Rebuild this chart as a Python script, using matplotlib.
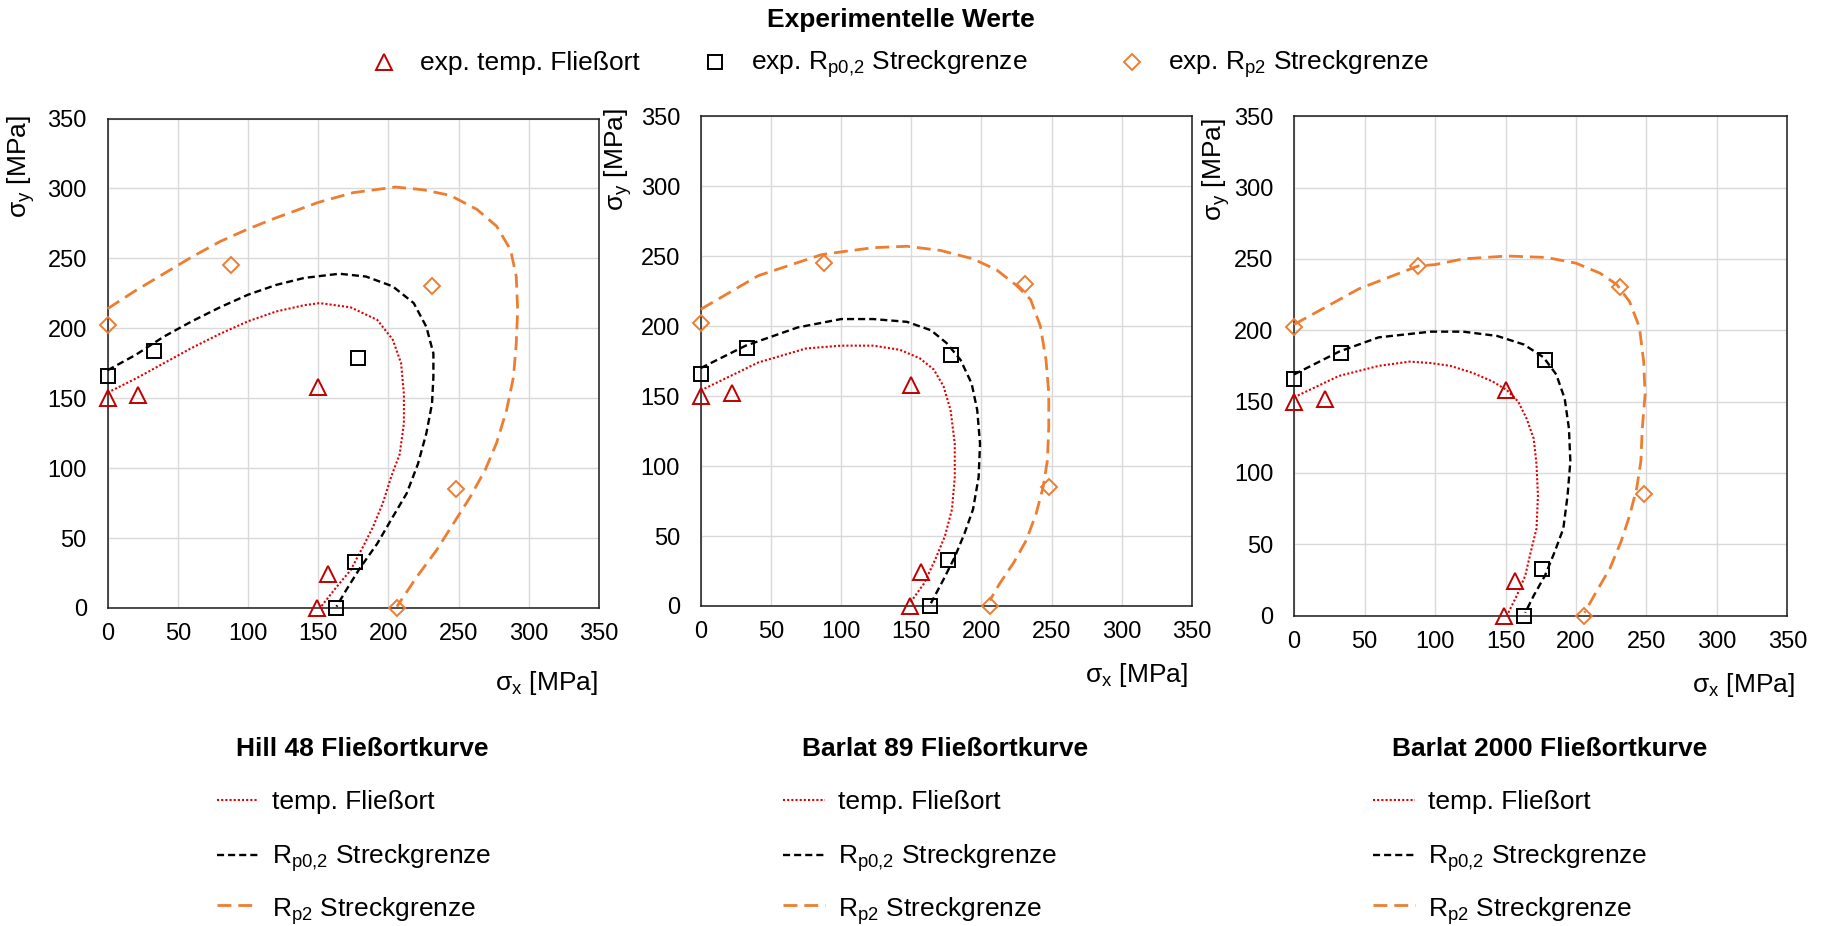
"""
Fließortkurven: Hill 48 / Barlat 89 / Barlat 2000 vs. experimentelle Werte.
"""
import matplotlib
matplotlib.use("Agg")
import matplotlib.pyplot as plt
from matplotlib.lines import Line2D

plt.rcParams["font.family"] = ["Liberation Sans", "DejaVu Sans"]
plt.rcParams["mathtext.fontset"] = "custom"
plt.rcParams["mathtext.rm"] = "Liberation Sans"
plt.rcParams["mathtext.it"] = "Liberation Sans:italic"
plt.rcParams["mathtext.bf"] = "Liberation Sans:bold"

W, H = 1822, 926

RED_LINE = "#E00000"
RED_MARK = "#C00000"
ORANGE   = "#ED7D31"
BLACK    = "#000000"
GRID_CLR = "#D9D9D9"

FS_TEXT = 19
FS_TICK = 17

# experimental values (sigma_x, sigma_y) in MPa
EXP_TEMP_X = [0, 22, 150, 157, 149]
EXP_TEMP_Y = [150, 152, 158, 24, 0]
EXP_RP02_X = [0, 33, 178, 176, 163]
EXP_RP02_Y = [166, 184, 179, 33, 0]
EXP_RP2_X  = [0, 88, 231, 248, 206]
EXP_RP2_Y  = [202, 245, 230, 85, 0]

# Hill 48
HILL_TEMP_X = [0, 20, 40, 60, 80, 100, 120, 140, 151, 173, 192, 203, 209, 211, 211,
               208, 202, 196, 189, 182, 173, 163, 152]
HILL_TEMP_Y = [154, 164, 175, 186, 196, 205, 212, 216.5, 218, 215, 206, 192, 175,
               153, 132, 110, 94, 75, 58, 44, 27, 15, 1]
HILL_RP02_X = [0, 20, 40, 60, 80, 100, 120, 140, 165, 184, 203, 218, 227, 232, 232,
               231, 227, 221, 213, 203, 192, 180, 170, 163]
HILL_RP02_Y = [170, 181, 194, 205, 215, 224, 231, 236, 239, 237, 230, 218, 201, 182,
               165, 146, 125, 103, 82, 65, 46, 29, 13, 1]
HILL_RP2_X  = [0, 20, 40, 60, 80, 100, 120, 150, 175, 205, 225, 244, 263, 277, 287,
               291, 292, 291, 289, 284, 277, 269, 258, 246, 234, 220, 206]
HILL_RP2_Y  = [214, 227, 239, 251, 262, 271, 279, 290, 297, 301, 299, 295, 285, 273,
               256, 237, 213, 189, 165, 141, 118, 99, 79, 60, 41, 22, 1]

# Barlat 89
B89_TEMP_X = [0, 41, 75, 100, 123, 142, 156, 166, 173, 178, 181, 181, 179, 174,
              167, 159, 149]
B89_TEMP_Y = [154, 174, 184, 186, 186, 183, 177, 169, 157, 140, 116, 92, 69, 50,
              33, 16, 2]
B89_RP02_X = [0, 32, 69, 100, 123, 147, 164, 175, 185, 193, 197, 199, 198, 194,
              188, 181, 173, 164]
B89_RP02_Y = [170, 186, 199, 205, 205, 203, 197, 188, 176, 159, 140, 116, 92, 69,
              52, 35, 19, 2]
B89_RP2_X  = [0, 41, 86, 100, 123, 147, 171, 194, 211, 225, 235, 242, 246, 248,
              248, 247, 244, 239, 232, 223, 213, 206]
B89_RP2_Y  = [212, 236, 251, 253, 256, 257, 254, 248, 240, 229, 219, 200, 176, 152,
              128, 104, 85, 66, 47, 31, 16, 4]

# Barlat 2000
B2K_TEMP_X = [0, 32, 60, 82, 97, 111, 127, 141, 151, 159, 165, 170, 172, 173, 172,
              168, 164, 158, 152]
B2K_TEMP_Y = [153, 168, 175, 178, 177, 175, 170, 164, 158, 150, 138, 124, 106, 84,
              61, 45, 28, 14, 2]
B2K_RP02_X = [0, 32, 60, 97, 120, 144, 163, 177, 186, 192, 195, 196, 194, 191, 185,
              178, 170, 164]
B2K_RP02_Y = [169, 185, 195, 199, 199, 196, 190, 181, 169, 152, 131, 108, 84, 61,
              45, 28, 14, 2]
B2K_RP2_X  = [0, 46, 88, 100, 120, 151, 179, 200, 217, 229, 238, 245, 248, 249,
              247, 246, 243, 238, 232, 224, 214, 206]
B2K_RP2_Y  = [204, 229, 245, 246, 250, 252, 251, 247, 240, 232, 220, 202, 178, 155,
              131, 108, 89, 70, 52, 33, 16, 2]

TICKS = [0, 50, 100, 150, 200, 250, 300, 350]

MODELS = [
    ("Hill 48 Fließortkurve",
     (HILL_TEMP_X, HILL_TEMP_Y), (HILL_RP02_X, HILL_RP02_Y), (HILL_RP2_X, HILL_RP2_Y)),
    ("Barlat 89 Fließortkurve",
     (B89_TEMP_X, B89_TEMP_Y), (B89_RP02_X, B89_RP02_Y), (B89_RP2_X, B89_RP2_Y)),
    ("Barlat 2000 Fließortkurve",
     (B2K_TEMP_X, B2K_TEMP_Y), (B2K_RP02_X, B2K_RP02_Y), (B2K_RP2_X, B2K_RP2_Y)),
]

# plot boxes in pixels: left, top, right, bottom
BOXES = [(107.6, 118.5, 599.1, 608.0),
         (700.8, 116.1, 1191.9, 606.0),
         (1294.0, 116.2, 1787.5, 615.6)]
YLABEL_POS = [(-0.175, 1.006), (-0.169, 1.017), (-0.158, 0.997)]
XLABEL_POS = [(0.998, -0.153), (0.992, -0.141), (1.015, -0.139)]
KEY_X = [216.7, 783.3, 1373.3]

STYLE_TEMP = dict(color=RED_LINE, lw=1.5, ls=(0, (1, 1)))
STYLE_RP02 = dict(color=BLACK, lw=1.7, ls=(0, (3, 1.7)))
STYLE_RP2  = dict(color=ORANGE, lw=2.0, ls=(0, (5, 2.5)))

MK_TEMP = dict(marker="^", ms=12, mec=RED_MARK, mfc="none", mew=1.4, ls="none")
MK_RP02 = dict(marker="s", ms=10.5, mec=BLACK, mfc="none", mew=1.4, ls="none")
MK_RP2  = dict(marker="D", ms=8, mec=ORANGE, mfc="none", mew=1.4, ls="none")

R_P02 = r"R$_\mathregular{p0{,}2}$"
R_P2 = r"R$_\mathregular{p2}$"


def fx(x):
    return x / W


def fy(y):
    return 1 - y / H


fig = plt.figure(figsize=(W / 100, H / 100), dpi=100, facecolor="white")

for i, (title, temp, rp02, rp2) in enumerate(MODELS):
    l, t, r, b = BOXES[i]
    ax = fig.add_axes([fx(l), fy(b), (r - l) / W, (b - t) / H])
    ax.set_xlim(0, 350)
    ax.set_ylim(0, 350)
    ax.set_xticks(TICKS)
    ax.set_yticks(TICKS)
    ax.grid(color=GRID_CLR, linewidth=1.0)
    ax.set_axisbelow(True)
    for s in ax.spines.values():
        s.set_color("#1a1a1a")
        s.set_linewidth(1.1)
    ax.tick_params(length=0, labelsize=FS_TICK, colors="black")
    ax.tick_params(axis="x", pad=11)
    ax.tick_params(axis="y", pad=15)

    ax.plot(*temp, clip_on=False, zorder=3, **STYLE_TEMP)
    ax.plot(*rp02, clip_on=False, zorder=3, **STYLE_RP02)
    ax.plot(*rp2, clip_on=False, zorder=3, **STYLE_RP2)

    ax.plot(EXP_TEMP_X, EXP_TEMP_Y, clip_on=False, zorder=4, **MK_TEMP)
    ax.plot(EXP_RP02_X, EXP_RP02_Y, clip_on=False, zorder=4, **MK_RP02)
    ax.plot(EXP_RP2_X, EXP_RP2_Y, clip_on=False, zorder=4, **MK_RP2)

    ylab = ax.set_ylabel(r"σ$_\mathregular{y}$ [MPa]", fontsize=FS_TEXT, loc="top")
    ylab.set_va("center")
    ax.yaxis.set_label_coords(*YLABEL_POS[i])
    xlab = ax.set_xlabel(r"σ$_\mathregular{x}$ [MPa]", fontsize=FS_TEXT, loc="right")
    xlab.set_va("center")
    ax.xaxis.set_label_coords(*XLABEL_POS[i])

    # key under each plot
    x0 = KEY_X[i]
    fig.text(fx(x0 + 19), fy(756), title, fontsize=FS_TEXT, fontweight="bold",
             ha="left", va="baseline")
    rows = [("temp. Fließort", STYLE_TEMP, 800, 809.3),
            (R_P02 + " Streckgrenze", STYLE_RP02, 855, 863.3),
            (R_P2 + " Streckgrenze", STYLE_RP2, 905, 916.7)]
    for label, st, ly, ty in rows:
        fig.add_artist(Line2D([fx(x0), fx(x0 + 41.6)], [fy(ly), fy(ly)],
                              transform=fig.transFigure, **st))
        fig.text(fx(x0 + 55), fy(ty), label, fontsize=FS_TEXT,
                 ha="left", va="baseline")

# experimental key at the top
fig.text(fx(900.8), fy(27.3), "Experimentelle Werte", fontsize=FS_TEXT,
         fontweight="bold", ha="center", va="baseline")
top_keys = [(384.2, 420.0, "exp. temp. Fließort", MK_TEMP),
            (715.0, 750.7, "exp. " + R_P02 + " Streckgrenze", MK_RP02),
            (1131.7, 1168.3, "exp. " + R_P2 + " Streckgrenze", MK_RP2)]
for mx, tx, label, mk in top_keys:
    fig.add_artist(Line2D([fx(mx)], [fy(61.7)], transform=fig.transFigure, **mk))
    fig.text(fx(tx), fy(70), label, fontsize=FS_TEXT, ha="left", va="baseline")

fig.savefig("out.png", dpi=100, facecolor="white")
